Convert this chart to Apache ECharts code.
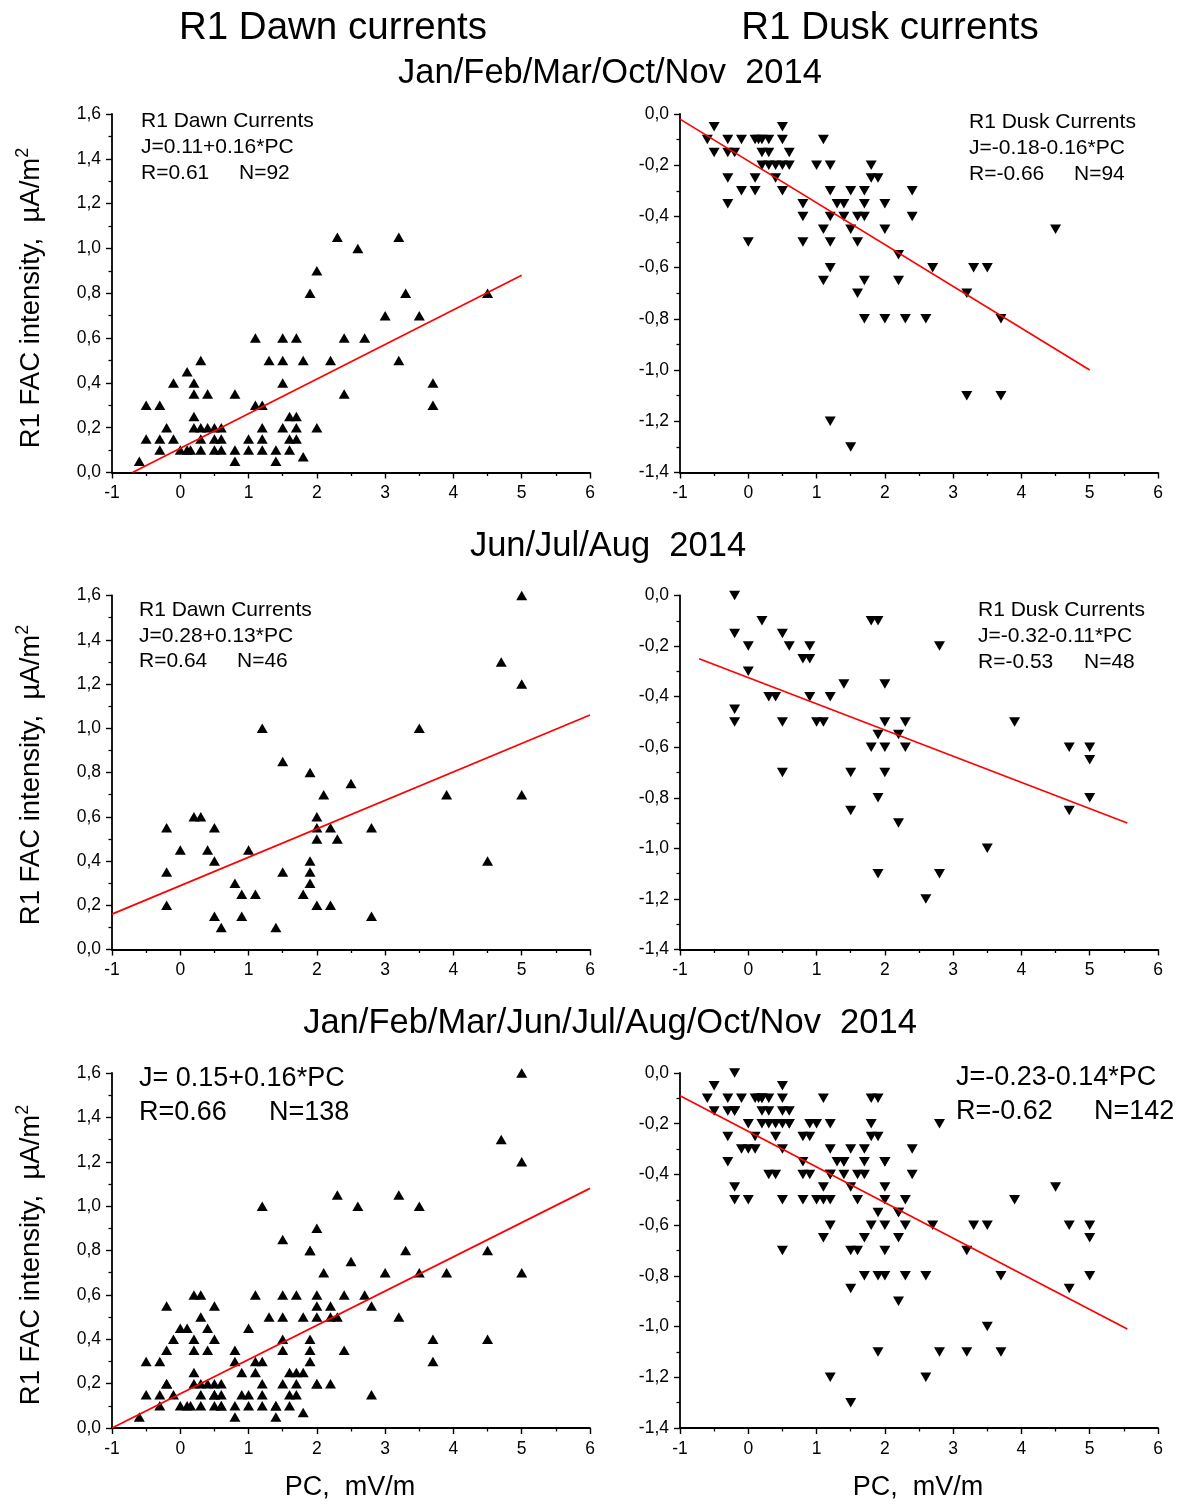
<!DOCTYPE html>
<html>
<head>
<meta charset="utf-8">
<script src="https://cdn.jsdelivr.net/npm/echarts@6/dist/echarts.min.js"></script>
<style>
html,body{margin:0;padding:0;background:#fff;}
#chart{width:1183px;height:1504px;}
</style>
</head>
<body>
<div id="chart"></div>
<script>
// ---- Data (PC [mV/m], J [uA/m^2]) ----
const dawnWinter = [[-0.6,0.05],[-0.5,0.3],[-0.3,0.3],[-0.5,0.15],[-0.3,0.15],[-0.3,0.1],[-0.2,0.2],[-0.1,0.15],[-0.1,0.4],[0.0,0.1],[0.1,0.1],[0.15,0.1],[0.1,0.45],[0.2,0.4],[0.2,0.35],[0.3,0.5],[0.2,0.25],[0.2,0.2],[0.3,0.2],[0.4,0.2],[0.5,0.2],[0.6,0.2],[0.3,0.15],[0.5,0.15],[0.6,0.15],[0.3,0.1],[0.5,0.1],[0.6,0.1],[0.4,0.35],[0.8,0.35],[0.8,0.1],[0.8,0.05],[1.0,0.15],[1.0,0.1],[1.1,0.6],[1.1,0.3],[1.2,0.3],[1.2,0.2],[1.2,0.15],[1.2,0.1],[1.3,0.5],[1.4,0.1],[1.4,0.05],[1.5,0.6],[1.5,0.5],[1.5,0.4],[1.5,0.2],[1.6,0.25],[1.7,0.25],[1.6,0.15],[1.6,0.1],[1.7,0.2],[1.7,0.15],[1.7,0.6],[1.8,0.5],[1.8,0.07],[1.9,0.8],[2.0,0.9],[2.0,0.2],[2.2,0.5],[2.3,1.05],[2.4,0.6],[2.4,0.35],[2.6,1.0],[2.7,0.6],[3.0,0.7],[3.2,1.05],[3.2,0.5],[3.3,0.8],[3.5,0.7],[3.7,0.4],[3.7,0.3],[4.5,0.8]];
const duskWinter = [[-0.6,-0.1],[-0.5,-0.05],[-0.5,-0.15],[-0.3,-0.1],[-0.3,-0.15],[-0.2,-0.15],[-0.3,-0.25],[-0.3,-0.35],[-0.1,-0.1],[-0.1,-0.3],[0.0,-0.5],[0.1,-0.1],[0.15,-0.1],[0.2,-0.1],[0.3,-0.1],[0.1,-0.25],[0.1,-0.3],[0.2,-0.15],[0.3,-0.15],[0.2,-0.2],[0.3,-0.2],[0.4,-0.2],[0.5,-0.2],[0.6,-0.2],[0.4,-0.25],[0.5,-0.05],[0.5,-0.1],[0.5,-0.3],[0.6,-0.15],[0.8,-0.35],[0.8,-0.4],[0.8,-0.5],[1.0,-0.2],[1.1,-0.1],[1.1,-0.45],[1.1,-0.65],[1.2,-0.2],[1.2,-0.3],[1.2,-0.4],[1.2,-0.5],[1.2,-0.6],[1.2,-1.2],[1.3,-0.35],[1.4,-0.35],[1.4,-0.4],[1.5,-0.3],[1.5,-0.45],[1.5,-1.3],[1.6,-0.4],[1.7,-0.4],[1.6,-0.5],[1.6,-0.7],[1.7,-0.3],[1.7,-0.35],[1.7,-0.65],[1.7,-0.8],[1.8,-0.2],[1.8,-0.25],[1.9,-0.25],[2.0,-0.35],[2.0,-0.45],[2.0,-0.8],[2.2,-0.55],[2.2,-0.65],[2.3,-0.8],[2.4,-0.3],[2.4,-0.4],[2.6,-0.8],[2.7,-0.6],[3.2,-0.7],[3.2,-1.1],[3.3,-0.6],[3.5,-0.6],[3.7,-0.8],[3.7,-1.1],[4.5,-0.45]];
const dawnSummer = [[-0.2,0.55],[-0.2,0.35],[-0.2,0.2],[0.0,0.45],[0.2,0.6],[0.3,0.6],[0.4,0.45],[0.5,0.55],[0.5,0.4],[0.5,0.15],[0.6,0.1],[0.8,0.3],[0.9,0.25],[0.9,0.15],[1.0,0.45],[1.1,0.25],[1.2,1.0],[1.4,0.1],[1.5,0.85],[1.5,0.35],[1.8,0.25],[1.9,0.8],[1.9,0.4],[1.9,0.35],[1.9,0.3],[2.0,0.6],[2.0,0.55],[2.0,0.5],[2.0,0.2],[2.1,0.7],[2.2,0.55],[2.2,0.2],[2.3,0.5],[2.5,0.75],[2.8,0.55],[2.8,0.15],[3.5,1.0],[3.9,0.7],[4.5,0.4],[4.7,1.3],[5.0,1.6],[5.0,1.2],[5.0,0.7]];
const duskSummer = [[-0.2,0.0],[-0.2,-0.15],[-0.2,-0.45],[-0.2,-0.5],[0.0,-0.2],[0.0,-0.3],[0.2,-0.1],[0.3,-0.4],[0.4,-0.4],[0.5,-0.15],[0.5,-0.5],[0.5,-0.7],[0.6,-0.2],[0.8,-0.25],[0.9,-0.25],[0.9,-0.2],[0.9,-0.4],[1.0,-0.5],[1.1,-0.5],[1.2,-0.4],[1.4,-0.35],[1.5,-0.7],[1.5,-0.85],[1.8,-0.1],[1.9,-0.1],[1.8,-0.6],[1.9,-0.55],[1.9,-0.8],[1.9,-1.1],[2.0,-0.35],[2.0,-0.5],[2.0,-0.6],[2.0,-0.7],[2.2,-0.55],[2.2,-0.9],[2.3,-0.5],[2.3,-0.6],[2.6,-1.2],[2.8,-0.2],[2.8,-1.1],[3.5,-1.0],[3.9,-0.5],[4.7,-0.6],[4.7,-0.85],[5.0,-0.6],[5.0,-0.65],[5.0,-0.8]];
const dawnAll = dawnWinter.concat(dawnSummer);
const duskAll = duskWinter.concat(duskSummer);

// regression lines as drawn (end points)
const fitDawnWinter = [[-0.7,0.0],[5.0,0.88]];
const fitDuskWinter = [[-1.0,-0.02],[5.0,-1.0]];
const fitDawnSummer = [[-1.0,0.16],[6.0,1.06]];
const fitDuskSummer = [[-0.72,-0.25],[5.55,-0.90]];
const fitDawnAll = [[-1.0,0.0],[6.0,1.08]];
const fitDuskAll = [[-1.0,-0.09],[5.55,-1.01]];

// tick settings
const xTicks = {min:-1, max:6, interval:1};
const dawnTicks = {min:0, max:1.6, interval:0.2};
const duskTicks = {min:-1.4, max:0, interval:0.2};

// texts
const columnTitles = ['R1 Dawn currents','R1 Dusk currents'];
const rowTitles = ['Jan/Feb/Mar/Oct/Nov  2014','Jun/Jul/Aug  2014','Jan/Feb/Mar/Jun/Jul/Aug/Oct/Nov  2014'];
const annotations = [
  ['R1 Dawn Currents','J=0.11+0.16*PC','R=0.61','N=92'],
  ['R1 Dusk Currents','J=-0.18-0.16*PC','R=-0.66','N=94'],
  ['R1 Dawn Currents','J=0.28+0.13*PC','R=0.64','N=46'],
  ['R1 Dusk Currents','J=-0.32-0.11*PC','R=-0.53','N=48'],
  [null,'J= 0.15+0.16*PC','R=0.66','N=138'],
  [null,'J=-0.23-0.14*PC','R=-0.62','N=142']
];
const yLabel = 'R1 FAC intensity,  \u00B5A/m{sup|2}';
const xLabel = 'PC,  mV/m';

// ---- layout ----
const FONT = '"Liberation Sans", Arial, sans-serif';
const colLeft = [112, 680];
const W = 478;
const rows = [{top:114,h:358.5},{top:595.5,h:354},{top:1073,h:355}];
const panels = [
  {pts:dawnWinter, fit:fitDawnWinter, dusk:false},
  {pts:duskWinter, fit:fitDuskWinter, dusk:true},
  {pts:dawnSummer, fit:fitDawnSummer, dusk:false},
  {pts:duskSummer, fit:fitDuskSummer, dusk:true},
  {pts:dawnAll, fit:fitDawnAll, dusk:false},
  {pts:duskAll, fit:fitDuskAll, dusk:true}
];
const fmt = v => (Math.abs(v) < 1e-9 ? 0 : v).toFixed(1).replace('.', ',');

const grid=[], xAxis=[], yAxis=[], series=[];
panels.forEach((p,i)=>{
  const r = Math.floor(i/2), c = i%2;
  grid.push({left:colLeft[c], top:rows[r].top, width:W, height:rows[r].h, outerBoundsMode:'none', containLabel:false});
  const axisCommon = {
    axisLine:{show:true, onZero:false, lineStyle:{color:'#000', width:1.8}},
    axisTick:{show:true, inside:false, length:6, lineStyle:{color:'#000', width:1.4}},
    minorTick:{show:true, splitNumber:2, length:3.5, lineStyle:{color:'#000', width:1.3}},
    splitLine:{show:false}, minorSplitLine:{show:false}
  };
  xAxis.push(Object.assign({type:'value', gridIndex:i, min:xTicks.min, max:xTicks.max, interval:xTicks.interval,
    axisLabel:{color:'#000', fontSize:17.5, fontFamily:FONT, margin:12}}, axisCommon));
  const yt = p.dusk ? duskTicks : dawnTicks;
  yAxis.push(Object.assign({type:'value', gridIndex:i, min:yt.min, max:yt.max, interval:yt.interval,
    axisLabel:{color:'#000', fontSize:17.5, fontFamily:FONT, margin:11, formatter:fmt}}, axisCommon));
  series.push({type:'scatter', xAxisIndex:i, yAxisIndex:i, data:p.pts,
    symbol:'triangle', symbolSize:[11,9.5], symbolRotate:p.dusk?180:0,
    itemStyle:{color:'#000', opacity:1}, silent:true, z:3});
  series.push({type:'line', xAxisIndex:i, yAxisIndex:i, data:p.fit, showSymbol:false, symbol:'none',
    lineStyle:{color:'#ff0000', width:1.7}, silent:true, z:4});
});

// ---- text graphics ----
const graphic = [];
function txt(x,y,text,size,align,extra){
  const g = {type:'text', x:x, y:y, silent:true,
    style:Object.assign({text:text, fontSize:size, fontFamily:FONT, fill:'#000', align:align||'left', verticalAlign:'middle'}, extra||{})};
  graphic.push(g); return g;
}
txt(333, 28, columnTitles[0], 38.5, 'center');
txt(890, 28, columnTitles[1], 38.5, 'center');
txt(610, 73, rowTitles[0], 34.5, 'center');
txt(608, 546, rowTitles[1], 34.5, 'center');
txt(610, 1023, rowTitles[2], 34.5, 'center');
txt(350, 1488, xLabel, 27, 'center');
txt(918, 1488, xLabel, 27, 'center');

const annPos = [
  {x:141, nx:239, ys:[121,147,173], fs:21},
  {x:969, nx:1074, ys:[122,148,174], fs:21},
  {x:139, nx:237, ys:[610,636,661], fs:21},
  {x:978, nx:1084, ys:[610,636,662], fs:21},
  {x:139, nx:269, ys:[null,1079,1113], fs:27},
  {x:956, nx:1094, ys:[null,1078,1112], fs:27}
];
annotations.forEach((a,i)=>{
  const p = annPos[i];
  if (a[0]) txt(p.x, p.ys[0], a[0], p.fs, 'left');
  txt(p.x, p.ys[1], a[1], p.fs, 'left');
  txt(p.x, p.ys[2], a[2], p.fs, 'left');
  txt(p.nx, p.ys[2], a[3], p.fs, 'left');
});

[298, 775, 1255].forEach(cy=>{
  const g = txt(31, cy, yLabel, 27.5, 'center', {rich:{sup:{fontSize:18, fontFamily:FONT, fill:'#000', padding:[0,0,15,0]}}});
  g.rotation = Math.PI/2;
});

const chart = echarts.init(document.getElementById('chart'), null, {renderer:'canvas'});
chart.setOption({
  animation:false,
  backgroundColor:'#fff',
  textStyle:{fontFamily:FONT},
  grid, xAxis, yAxis, series, graphic
});
</script>
</body>
</html>
